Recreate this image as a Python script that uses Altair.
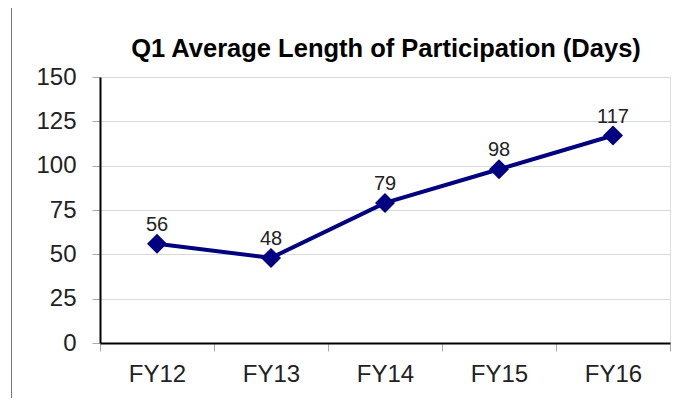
import altair as alt
import pandas as pd

years = ["FY12", "FY13", "FY14", "FY15", "FY16"]
days = [56, 48, 79, 98, 117]
y_ticks = [0, 25, 50, 75, 100, 125, 150]
title_text = "Q1 Average Length of Participation (Days)"

df = pd.DataFrame({"year": years, "days": days})
FONT = "Liberation Sans"
NAVY = "#000080"

base = alt.Chart(df).encode(
    x=alt.X(
        "year:N",
        sort=years,
        scale=alt.Scale(type="band", paddingInner=0, paddingOuter=0),
        axis=alt.Axis(
            title=None, labelAngle=0, tickBand="extent", grid=False,
            domainColor="#000000", domainWidth=2,
            tickColor="#aaaaaa", tickSize=8, tickWidth=1,
            labelFont=FONT, labelFontSize=24, labelColor="#222222",
            labelPadding=11,
        ),
    ),
    y=alt.Y(
        "days:Q",
        scale=alt.Scale(domain=[0, 150], nice=False, zero=True),
        axis=alt.Axis(
            title=None, values=y_ticks, grid=True, gridColor="#d9d9d9", gridWidth=1,
            domainColor="#000000", domainWidth=2,
            tickColor="#aaaaaa", tickSize=8, tickWidth=1,
            labelFont=FONT, labelFontSize=24, labelColor="#222222",
            labelPadding=16,
        ),
    ),
)

line = base.mark_line(color=NAVY, strokeWidth=4)
points = base.mark_point(shape="diamond", filled=True, size=400, color=NAVY, opacity=1)
labels = base.mark_text(
    dy=-13, baseline="alphabetic", font=FONT, fontSize=20, color="#222222"
).encode(text="days:Q")

single = pd.DataFrame({"title": [title_text]})
frame = alt.Chart(single).mark_rule(color="#777777", strokeWidth=1).encode(
    x=alt.value(-88.5), y=alt.value(-70), y2=alt.value(330)
)
title = alt.Chart(single).mark_text(
    font=FONT, fontSize=25.5, fontWeight="bold", color="#000000",
    align="center", baseline="alphabetic",
).encode(text="title:N", x=alt.value(286), y=alt.value(-20.5))

chart = alt.layer(frame, line, points, labels, title).properties(
    width=570,
    height=266,
    autosize="none",
    padding={"left": 92, "top": 69, "right": 16, "bottom": 55},
).configure_view(stroke="#888888", strokeWidth=2).configure(background="white")

chart.save("out.html", embed_options={"renderer": "svg", "actions": False})
